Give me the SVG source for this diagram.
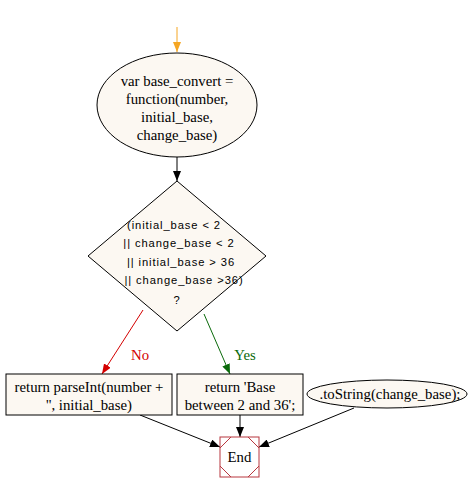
<svg xmlns="http://www.w3.org/2000/svg" width="474" height="492" viewBox="0 0 474 492">
<style>
.node{fill:#fcf8f2;stroke:#000;stroke-width:1}
.t{font-family:"Liberation Serif","Times New Roman",serif;font-size:14.8px;fill:#000;text-anchor:middle}
.s{font-family:"Liberation Sans",Arial,sans-serif;font-size:11.2px;letter-spacing:0.9px;fill:#000;text-anchor:middle}
.e{fill:none;stroke-width:1}
</style>
<defs>
<marker id="aB" markerUnits="userSpaceOnUse" markerWidth="10" markerHeight="8" refX="10" refY="4" orient="auto"><path d="M0,0 L10,4 L0,8 z" fill="#000"/></marker>
<marker id="aO" markerUnits="userSpaceOnUse" markerWidth="10" markerHeight="8" refX="10" refY="4" orient="auto"><path d="M0,0 L10,4 L0,8 z" fill="#f5a623"/></marker>
<marker id="aR" markerUnits="userSpaceOnUse" markerWidth="10" markerHeight="8" refX="10" refY="4" orient="auto"><path d="M0,0 L10,4 L0,8 z" fill="#d40000"/></marker>
<marker id="aG" markerUnits="userSpaceOnUse" markerWidth="10" markerHeight="8" refX="10" refY="4" orient="auto"><path d="M0,0 L10,4 L0,8 z" fill="#0a6a0a"/></marker>
</defs>
<rect width="474" height="492" fill="#fff"/>
<g id="connectors">
<line class="e" x1="177" y1="27" x2="177" y2="52" stroke="#f5a623" marker-end="url(#aO)"/>
<line class="e" x1="177" y1="157" x2="177" y2="181" stroke="#000" marker-end="url(#aB)"/>
<line class="e" x1="143" y1="310" x2="102" y2="374" stroke="#d40000" marker-end="url(#aR)"/>
<text x="140" y="360" class="t" style="fill:#d40000">No</text>
<line class="e" x1="204" y1="314" x2="230" y2="374" stroke="#0a6a0a" marker-end="url(#aG)"/>
<text x="245" y="360" class="t" style="fill:#0a6a0a">Yes</text>
<line class="e" x1="140" y1="415" x2="220" y2="447" stroke="#000" marker-end="url(#aB)"/>
<line class="e" x1="240" y1="415" x2="240" y2="437" stroke="#000" marker-end="url(#aB)"/>
<line class="e" x1="354" y1="408" x2="259" y2="447" stroke="#000" marker-end="url(#aB)"/>
</g>
<g id="start">
<ellipse class="node" cx="177" cy="105" rx="80" ry="52"/>
<text class="t" x="177" y="86">var base_convert =</text>
<text class="t" x="177" y="104">function(number,</text>
<text class="t" x="177" y="122">initial_base,</text>
<text class="t" x="177" y="140">change_base)</text>
</g>
<g id="decision">
<polygon class="node" points="177,181 266,256 177,331 88,256"/>
<text class="s" x="174" y="229">(initial_base &lt; 2</text>
<text class="s" x="179" y="247">|| change_base &lt; 2</text>
<text class="s" x="181" y="266">|| initial_base &gt; 36</text>
<text class="s" x="184" y="284">|| change_base &gt;36)</text>
<text class="s" x="177" y="304">?</text>
</g>
<g id="no_box">
<rect class="node" x="6" y="374" width="166" height="41"/>
<text class="t" x="89" y="392">return parseInt(number +</text>
<text class="t" x="89" y="410">'', initial_base)</text>
</g>
<g id="yes_box">
<rect class="node" x="177" y="374" width="126" height="41"/>
<text class="t" x="240" y="392">return 'Base</text>
<text class="t" x="240" y="410">between 2 and 36';</text>
</g>
<g id="tostring">
<ellipse class="node" cx="387" cy="394" rx="80" ry="14"/>
<text class="t" x="390" y="399">.toString(change_base);</text>
</g>
<g id="end">
<rect x="220" y="437" width="39" height="40" fill="#fff" stroke="#b8373f"/>
<path d="M220,448 L231,437 M248,437 L259,448 M259,466 L248,477 M231,477 L220,466" fill="none" stroke="#b8373f"/>
<text class="t" x="239.5" y="462">End</text>
</g>
</svg>
